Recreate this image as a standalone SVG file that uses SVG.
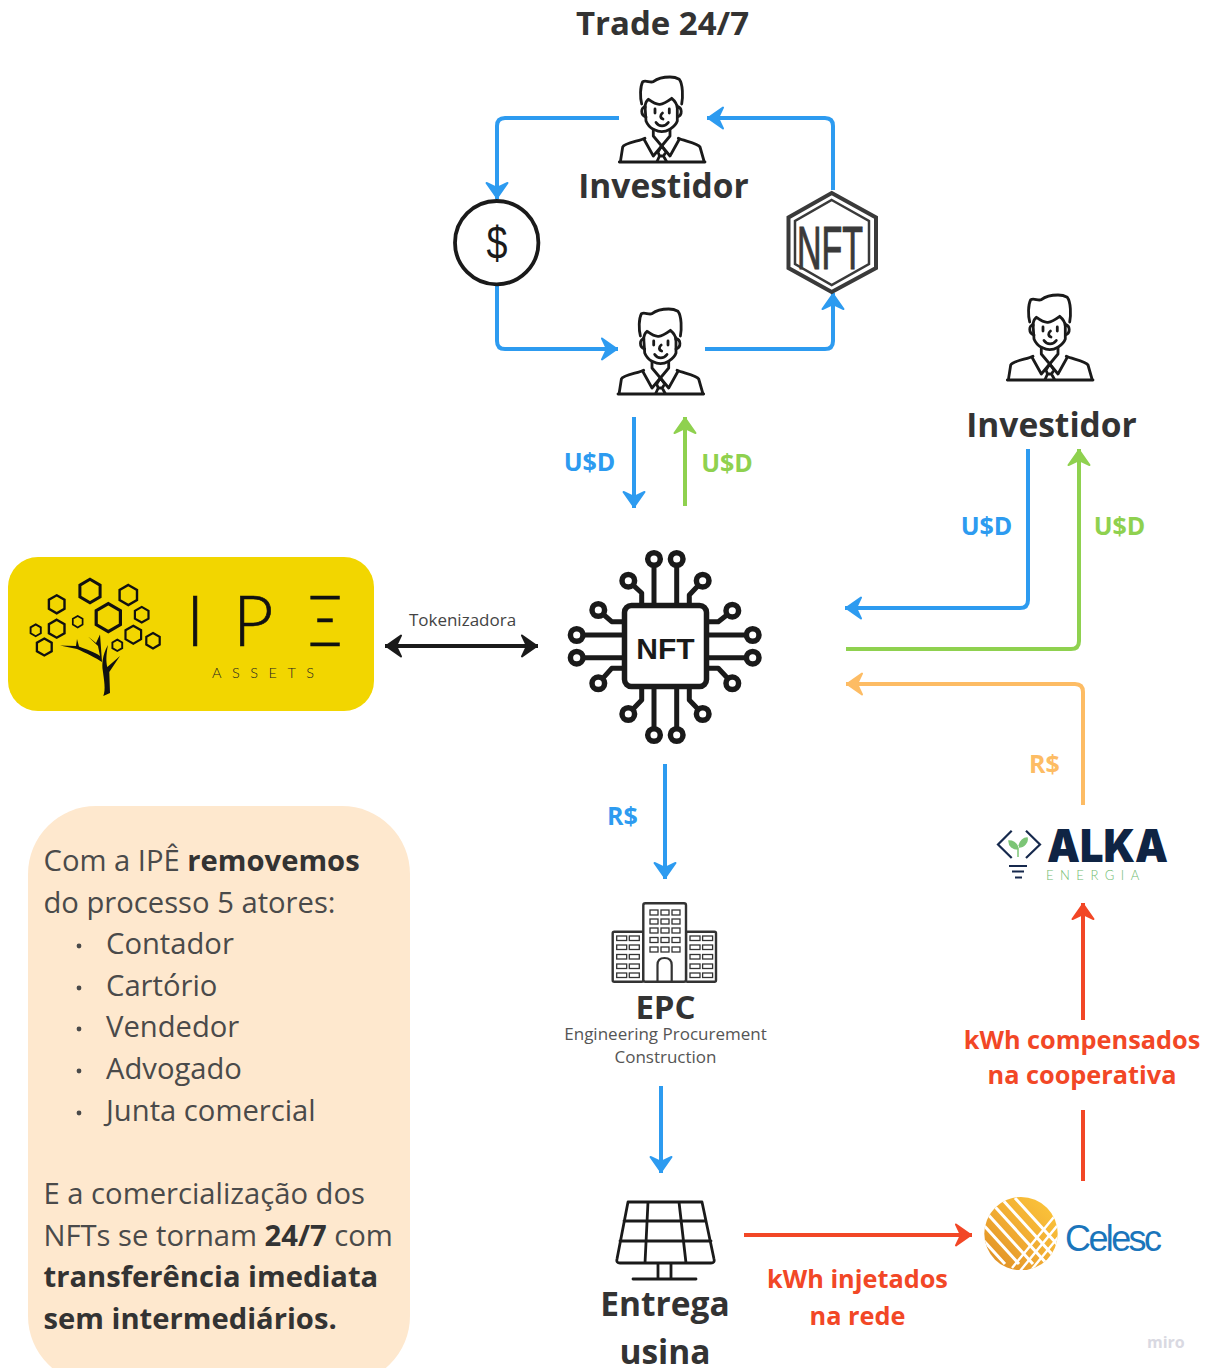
<svg xmlns="http://www.w3.org/2000/svg" width="1209" height="1368" viewBox="0 0 1209 1368">
<style>
text{font-family:"Open Sans","Noto Sans","Liberation Sans",sans-serif}
.t{fill:#333;font-weight:700;text-anchor:middle}
.big{font-size:33.500px}
.lab{font-size:25px;font-weight:700;text-anchor:middle}
.red{font-size:25.300px;font-weight:700;text-anchor:middle;fill:#f24726}
.b{fill:#2d9bf0}.g{fill:#8fd14f}.o{fill:#fdbc64}
.body{font-size:29.200px;fill:#4a4a4a}
.body tspan.s{font-weight:700;fill:#333}
.sub{font-size:17px;fill:#555;text-anchor:middle}
.c{fill:none;stroke-width:4;stroke-linejoin:round}
.line{fill:none;stroke:#1a1a1a;stroke-width:2.800;stroke-linecap:round;stroke-linejoin:round}
.chip{fill:none;stroke:#1a1a1a;stroke-width:5;stroke-linecap:butt;stroke-linejoin:round}
.pin{fill:#fff;stroke:#1a1a1a;stroke-width:5.500}
.win{fill:none;stroke:#333;stroke-width:1.300}
.hx{fill:none;stroke:#111;stroke-linejoin:miter}
</style>
<defs>
<marker id="ab" markerUnits="userSpaceOnUse" markerWidth="26" markerHeight="30" refX="19" refY="15" orient="auto"><path d="M3,4.500 L18,15 L3,25.500 L8,15Z" fill="#2d9bf0" stroke="#2d9bf0" stroke-width="2" stroke-linejoin="round"/></marker>
<marker id="ag" markerUnits="userSpaceOnUse" markerWidth="26" markerHeight="30" refX="19" refY="15" orient="auto"><path d="M3,4.500 L18,15 L3,25.500 L8,15Z" fill="#8fd14f" stroke="#8fd14f" stroke-width="2" stroke-linejoin="round"/></marker>
<marker id="ao" markerUnits="userSpaceOnUse" markerWidth="26" markerHeight="30" refX="19" refY="15" orient="auto"><path d="M3,4.500 L18,15 L3,25.500 L8,15Z" fill="#fdbc64" stroke="#fdbc64" stroke-width="2" stroke-linejoin="round"/></marker>
<marker id="ar" markerUnits="userSpaceOnUse" markerWidth="26" markerHeight="30" refX="19" refY="15" orient="auto"><path d="M3,4.500 L18,15 L3,25.500 L8,15Z" fill="#f24726" stroke="#f24726" stroke-width="2" stroke-linejoin="round"/></marker>
<marker id="ak" markerUnits="userSpaceOnUse" markerWidth="26" markerHeight="30" refX="19" refY="15" orient="auto-start-reverse"><path d="M3,4.500 L18,15 L3,25.500 L8,15Z" fill="#1a1a1a" stroke="#1a1a1a" stroke-width="2" stroke-linejoin="round"/></marker>
<g id="person" class="line">
<path d="M21.700,27 C20,20 20,10 22.700,4.700 C26,3 30,6 33.300,4.700 C38,1 45,0 50,0 C54,0 57,1 59.300,2.300 C63,7 63,20 61.700,27"/>
<path d="M25,31 C25,27 26,24 28.300,22.300 C32,25 36,28 40,27.300 C44,27 48,24 51.700,21.300 C55,24 57,27 57.300,31"/>
<path d="M25,29 L26,44 C28,49 31,51 33.300,52.300 C37,54 39,54.700 41.700,54.700 C45,54.700 47,54 50,52.300 C53,50 56,48 57.300,44 L57.300,29"/>
<path d="M25,30 C21,30 20,38 26,40 M57.300,30 C62,30 63,38 57.300,40"/>
<path d="M35,32 V36 M49.300,32 V36 M42.500,36 C40,38 40,41 43,42 M36,45.500 C39,50 45,50 48.300,45.500"/>
<path d="M33.300,52.300 V59 L41.700,69 L50,59 V52.300"/>
<path d="M-.7,85 H85 M.5,84 L2.700,70 C4,66 20,64 25,61.300 M84,84 L80,70 C78,66 64,64 58.300,61.300"/>
<path d="M24,62.300 L33.300,79 L41.700,69 L50,79 L59.300,62.300"/>
<path d="M38,75 L41.700,69 L46,75 L43.500,79 H39.500Z M39.500,79 L37,84.500 M43.500,79 L46.500,84.500"/>
</g>
<g id="w3"><rect class="win" x="0" y="0" width="8" height="5"/><rect class="win" x="11" y="0" width="8" height="5"/><rect class="win" x="22" y="0" width="8" height="5"/></g>
<g id="w2"><rect class="win" x="0" y="0" width="10" height="4.500"/><rect class="win" x="12.600" y="0" width="10" height="4.500"/></g>
<linearGradient id="gold" x1="1" y1="0" x2="0" y2="1"><stop offset="0" stop-color="#fdc93c"/><stop offset=".55" stop-color="#f0aa32"/><stop offset="1" stop-color="#dc8a22"/></linearGradient>
<clipPath id="globe"><circle cx="1021" cy="1233.700" r="36.700"/></clipPath>
</defs>

<rect width="1209" height="1368" fill="#fff"/>

<text id="title" class="t" x="662.500" y="35" style="font-size:33px">Trade 24/7</text>

<g id="connectors">
<path class="c" stroke="#2d9bf0" d="M619,118 H505 Q497,118 497,126 V199" marker-end="url(#ab)"/>
<path class="c" stroke="#2d9bf0" d="M497,285 V341 Q497,349 505,349 H618" marker-end="url(#ab)"/>
<path class="c" stroke="#2d9bf0" d="M705,349 H825 Q833,349 833,341 V293" marker-end="url(#ab)"/>
<path class="c" stroke="#2d9bf0" d="M833,190 V126 Q833,118 825,118 H707" marker-end="url(#ab)"/>
<path class="c" stroke="#2d9bf0" d="M634,417 V508" marker-end="url(#ab)"/>
<path class="c" stroke="#8fd14f" d="M685,506 V417" marker-end="url(#ag)"/>
<path class="c" stroke="#1a1a1a" d="M385,646 H538" marker-start="url(#ak)" marker-end="url(#ak)"/>
<path class="c" stroke="#2d9bf0" d="M1028,449 V600 Q1028,608 1020,608 H845" marker-end="url(#ab)"/>
<path class="c" stroke="#8fd14f" d="M846,649 H1071 Q1079,649 1079,641 V449" marker-end="url(#ag)"/>
<path class="c" stroke="#fdbc64" d="M1083,805 V692 Q1083,684 1075,684 H846" marker-end="url(#ao)"/>
<path class="c" stroke="#2d9bf0" d="M665,764 V879" marker-end="url(#ab)"/>
<path class="c" stroke="#2d9bf0" d="M661,1086 V1173" marker-end="url(#ab)"/>
<path class="c" stroke="#f24726" d="M1083,1020 V903" marker-end="url(#ar)"/>
<path class="c" stroke="#f24726" d="M1083,1181 V1110"/>
<path class="c" stroke="#f24726" d="M744,1235 H972" marker-end="url(#ar)"/>
</g>

<g id="labels">
<text class="lab b" x="589.500" y="471">U$D</text>
<text class="lab g" x="727" y="472">U$D</text>
<text class="lab b" x="986.500" y="535">U$D</text>
<text class="lab g" x="1119.500" y="535">U$D</text>
<text class="lab o" x="1044.500" y="773">R$</text>
<text class="lab b" x="622.500" y="825">R$</text>
<text x="462.500" y="626" style="font-size:17px;fill:#444;text-anchor:middle">Tokenizadora</text>
<text class="red" x="1082" y="1049">kWh compensados</text>
<text class="red" x="1082" y="1084">na cooperativa</text>
<text class="red" x="857.500" y="1288">kWh injetados</text>
<text class="red" x="857.500" y="1325">na rede</text>
</g>

<g id="investidor-top">
<use href="#person" x="620" y="77"/>
<text class="t big" x="663.500" y="198">Investidor</text>
</g>
<g id="investidor-bottom"><use href="#person" x="618.700" y="309"/></g>
<g id="investidor-right">
<use href="#person" x="1008" y="295"/>
<text class="t big" x="1051.500" y="437">Investidor</text>
</g>

<g id="dollar">
<circle cx="496.700" cy="242.700" r="41.700" fill="#fff" stroke="#1a1a1a" stroke-width="3.800"/>
<text transform="translate(497 259) scale(.82 1)" style="font-family:'Liberation Sans',sans-serif;font-size:46px;fill:#1a1a1a;text-anchor:middle">$</text>
</g>

<g id="nft-hex">
<polygon points="831.700,193 876,217.500 876,268 831.700,292 788.500,268 788.500,217.500" fill="#fff" stroke="#3a3a3a" stroke-width="4"/>
<polygon points="831.700,200 869,221 869,264 831.700,285 795,264 795,221" fill="none" stroke="#3a3a3a" stroke-width="2.500"/>
<text x="797" y="269" textLength="66" lengthAdjust="spacingAndGlyphs" style="font-family:'Liberation Sans',sans-serif;font-size:62px;fill:#3a3a3a;stroke:#3a3a3a;stroke-width:1.200">NFT</text>
</g>

<g id="ipe">
<rect x="8" y="557" width="366" height="154" rx="30" fill="#f2d600"/>
<g class="hx">
<polygon stroke-width="3" points="90,579.300 100.100,585.200 100.100,596.800 90,602.700 79.900,596.800 79.900,585.200"/>
<polygon stroke-width="2.400" points="128.300,585 137,590 137,600 128.300,605 119.600,600 119.600,590"/>
<polygon stroke-width="2.400" points="56.700,595.300 64.500,599.800 64.500,608.800 56.700,613.300 48.900,608.800 48.900,599.800"/>
<polygon stroke-width="3.200" points="108.300,603.700 120.400,610.700 120.400,624.700 108.300,631.700 96.200,624.700 96.200,610.700"/>
<polygon stroke-width="2.200" points="141.700,606.900 148.500,610.800 148.500,618.600 141.700,622.500 134.900,618.600 134.900,610.800"/>
<polygon stroke-width="1.700" points="77.700,616 82.600,618.850 82.600,624.550 77.700,627.400 72.800,624.550 72.800,618.850"/>
<polygon stroke-width="2.400" points="56.700,619.700 64.500,624.200 64.500,633.200 56.700,637.700 48.900,633.200 48.900,624.200"/>
<polygon stroke-width="1.900" points="35.700,624.400 40.800,627.350 40.800,633.250 35.700,636.200 30.600,633.250 30.600,627.350"/>
<polygon stroke-width="2.300" points="44.300,638.500 51.700,642.750 51.700,651.250 44.300,655.500 36.900,651.250 36.900,642.750"/>
<polygon stroke-width="2.200" points="133.300,625.700 141.100,630.200 141.100,639.200 133.300,643.700 125.500,639.200 125.500,630.200"/>
<polygon stroke-width="2.200" points="153,633 159.700,636.850 159.700,644.550 153,648.400 146.300,644.550 146.300,636.850"/>
<polygon stroke-width="1.900" points="117.300,639.600 122.200,642.450 122.200,648.150 117.300,651 112.400,648.150 112.400,642.450"/>
</g>
<path d="M103.300,696 C106,690 104,680 102.700,670 C102,665 102,655 108,645 C106,655 106,662 107.300,667 L120,656 L109.300,672 L110,693 Z" fill="#111"/>
<path d="M102,662 C96,658 86,653 77,649 L60,645.500 L76,646 L77,639 L79,646.500 C85,649 95,652 100,656 L98,646 L88,636.500 L96,643 L100,634.500 L101,648Z" fill="#111"/>
<text x="186 233" y="646" style="font-family:Lato,'Open Sans',sans-serif;font-size:70px;font-weight:300;fill:#111;stroke:#111;stroke-width:.6">IP</text>
<text x="308" y="646" textLength="34" lengthAdjust="spacingAndGlyphs" style="font-family:Lato,'Open Sans',sans-serif;font-size:70px;font-weight:300;fill:#111;stroke:#111;stroke-width:.6">Ξ</text>
<text x="212" y="678" style="font-family:Lato,'Open Sans',sans-serif;font-size:14.500px;font-weight:300;letter-spacing:10.500px;fill:#222">ASSETS</text>
</g>

<g id="nft-chip">
<path class="chip" d="M654,605 V559 M676.700,605 V559 M654,687 V734 M676.700,687 V734 M624,635 H577 M624,657.700 H577 M707,635 H752 M707,657.700 H752"/>
<path class="chip" d="M641.700,605 V593 L628.300,580.700 M689.300,605 V595 L702.700,580.700 M641.700,687 V700 L628.300,714 M689.300,687 V700 L702.700,714 M624,621.700 H611.700 L598.300,610 M624,668.300 H611.700 L598.300,683.300 M707,621.700 H718.300 L732.300,610.700 M707,668.300 H718.300 L732.300,683.300"/>
<g class="pin">
<circle cx="654" cy="559" r="6.300"/><circle cx="676.700" cy="559" r="6.300"/>
<circle cx="654" cy="735" r="6.300"/><circle cx="676.700" cy="735" r="6.300"/>
<circle cx="576.700" cy="635" r="6.300"/><circle cx="576.700" cy="657.700" r="6.300"/>
<circle cx="752.700" cy="635" r="6.300"/><circle cx="752.700" cy="657.700" r="6.300"/>
<circle cx="628.300" cy="580.700" r="6.300"/><circle cx="702.700" cy="580.700" r="6.300"/>
<circle cx="628.300" cy="714" r="6.300"/><circle cx="702.700" cy="714" r="6.300"/>
<circle cx="598.300" cy="610" r="6.300"/><circle cx="732.300" cy="610.700" r="6.300"/>
<circle cx="598.300" cy="683.300" r="6.300"/><circle cx="732.300" cy="683.300" r="6.300"/>
</g>
<rect x="624.500" y="605.500" width="82" height="81" rx="7" fill="#fff" stroke="#1a1a1a" stroke-width="5.500"/>
<text x="665.500" y="659" style="font-family:'Liberation Sans',sans-serif;font-size:30px;font-weight:700;fill:#1a1a1a;text-anchor:middle">NFT</text>
</g>

<g id="panel">
<rect x="28" y="806" width="382" height="578" rx="68" fill="#fee8ce"/>
<text class="body" x="43.500" y="871">Com a IPÊ <tspan class="s">removemos</tspan></text>
<text class="body" x="43.500" y="913">do processo 5 atores:</text>
<text class="body" x="106" y="954">Contador</text>
<text class="body" x="106" y="996">Cartório</text>
<text class="body" x="106" y="1037">Vendedor</text>
<text class="body" x="106" y="1079">Advogado</text>
<text class="body" x="106" y="1121">Junta comercial</text>
<g fill="#4a4a4a"><circle cx="79" cy="946" r="2.400"/><circle cx="79" cy="988" r="2.400"/><circle cx="79" cy="1029" r="2.400"/><circle cx="79" cy="1071" r="2.400"/><circle cx="79" cy="1113" r="2.400"/></g>
<text class="body" x="43.500" y="1204">E a comercialização dos</text>
<text class="body" x="43.500" y="1246">NFTs se tornam <tspan class="s">24/7</tspan> com</text>
<text class="body" x="43.500" y="1287"><tspan class="s">transferência imediata</tspan></text>
<text class="body" x="43.500" y="1329"><tspan class="s">sem intermediários.</tspan></text>
</g>

<g id="epc">
<g fill="#fff" stroke="#333" stroke-width="2.400" stroke-linejoin="round">
<rect x="612.700" y="931.700" width="30.600" height="50" rx="1.500"/>
<rect x="686" y="931.700" width="30" height="50" rx="1.500"/>
<rect x="643.300" y="903.300" width="42.700" height="78.400" rx="2"/>
</g>
<use href="#w3" x="650" y="910"/><use href="#w3" x="650" y="919"/><use href="#w3" x="650" y="928"/><use href="#w3" x="650" y="937.500"/><use href="#w3" x="650" y="947"/>
<use href="#w2" x="616.700" y="936"/><use href="#w2" x="616.700" y="945"/><use href="#w2" x="616.700" y="954.500"/><use href="#w2" x="616.700" y="964"/><use href="#w2" x="616.700" y="973"/>
<use href="#w2" x="690" y="936"/><use href="#w2" x="690" y="945"/><use href="#w2" x="690" y="954.500"/><use href="#w2" x="690" y="964"/><use href="#w2" x="690" y="973"/>
<path d="M657.500,981.700 V965 Q657.500,958 664.500,958 Q671.700,958 671.700,965 V981.700" fill="none" stroke="#333" stroke-width="2.200"/>
<text class="t" x="665.500" y="1019" style="font-size:33px">EPC</text>
<text class="sub" x="665.500" y="1040">Engineering Procurement</text>
<text class="sub" x="665.500" y="1063">Construction</text>
</g>

<g id="usina">
<path d="M628,1202 H702 L714,1259 Q715,1263 711,1263 H620 Q616,1263 617,1259Z M624,1221 H706 M620,1241 H711 M648,1202 L645,1263 M679,1202 L686,1263 M658,1263 V1279 M671,1263 V1279 M633,1279 H696" fill="none" stroke="#1a1a1a" stroke-width="2.800" stroke-linejoin="round" stroke-linecap="round"/>
<text class="t" x="665" y="1316" style="font-size:33.500px">Entrega</text>
<text class="t" x="665" y="1364" style="font-size:33.500px">usina</text>
</g>

<g id="celesc">
<g clip-path="url(#globe)">
<rect x="984" y="1196" width="74" height="74" fill="url(#gold)"/>
<path d="M1015,1198 L1075,1264 M1001,1198 L1061,1264 M987,1198 L1047,1264 M973,1198 L1033,1264 M959,1198 L1019,1264 M945,1198 L1005,1264 M931,1198 L996,1270" fill="none" stroke="#fff" stroke-width="3"/>
<path d="M1058,1212 L1012,1268 M1066,1215 L1020,1271 M1074,1218 L1028,1274 M1082,1221 L1036,1277" fill="none" stroke="#fff" stroke-width="2.400"/>
</g>
<text x="1065" y="1251" textLength="97" lengthAdjust="spacing" style="font-family:'Liberation Sans',sans-serif;font-size:36px;fill:#1a75bb">Celesc</text>
</g>

<g id="alka">
<path d="M1011.700,830.700 L998,844.500 L1011.700,858 M1026,830.700 L1040,844.500 L1026,858 M1009,866 H1027 M1012,871.500 H1024 M1015,877.500 H1022" fill="none" stroke="#16294d" stroke-width="2.200"/>
<path d="M1018,857 V848 M1018,848 C1016,842 1012,841 1009,841 C1009,846 1013,849 1018,849 M1019,846 C1020,841 1024,838 1027,838 C1028,842 1024,847 1019,847" fill="#7cc576" stroke="#7cc576" stroke-width="1.500"/>
<text x="1047" y="862" textLength="121" lengthAdjust="spacingAndGlyphs" style="font-family:Inter,'Open Sans',sans-serif;font-size:45px;font-weight:900;fill:#0f2444">ALKA</text>
<text x="1046" y="880" style="font-family:Lato,'Open Sans',sans-serif;font-size:13px;font-weight:300;letter-spacing:6.500px;fill:#6fbb6f">ENERGIA</text>
</g>

<text id="miro" x="1147" y="1348" style="font-size:16px;font-weight:700;fill:#d9d9e2">miro</text>
</svg>
